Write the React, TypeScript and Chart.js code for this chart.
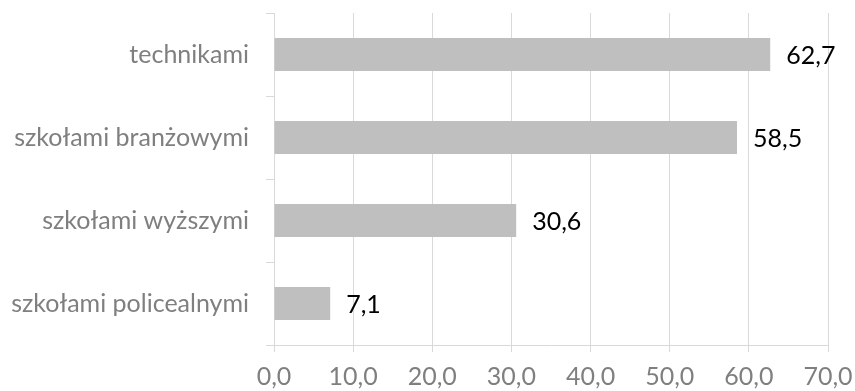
import React, { useEffect, useRef } from "react";
import { Chart, registerables } from "chart.js";

Chart.register(...registerables);

const categories = [
  "technikami",
  "szkołami branżowymi",
  "szkołami wyższymi",
  "szkołami policealnymi",
];
const values = [62.7, 58.5, 30.6, 7.1];
const axisMin = 0;
const axisMax = 70;
const axisStep = 10;

const fmt = (v: number) => v.toFixed(1).replace(".", ",");
const FONT = "Lato, 'Open Sans', sans-serif";
const FONT_SIZE = 25;

const valueLabels = {
  id: "valueLabels",
  afterDatasetsDraw(chart: any) {
    const ctx = chart.ctx;
    const meta = chart.getDatasetMeta(0);
    ctx.save();
    ctx.font = `${FONT_SIZE}px ${FONT}`;
    ctx.fillStyle = "#000000";
    ctx.textAlign = "left";
    ctx.textBaseline = "middle";
    meta.data.forEach((bar: any, i: number) => {
      ctx.fillText(fmt(values[i]), bar.x + 16, bar.y + 1);
    });
    ctx.restore();
  },
};

const noScalePadding = (s: any) => {
  s.paddingTop = 0;
  s.paddingBottom = 0;
  s.paddingLeft = 0;
  s.paddingRight = 0;
};

export default function App() {
  const ref = useRef<HTMLCanvasElement>(null);

  useEffect(() => {
    document.body.style.margin = "0";
    const chart = new Chart(ref.current!, {
      type: "bar",
      data: {
        labels: categories,
        datasets: [
          {
            data: values,
            backgroundColor: "#bfbfbf",
            barPercentage: 0.4,
            categoryPercentage: 1,
          },
        ],
      },
      plugins: [valueLabels],
      options: {
        indexAxis: "y",
        animation: false,
        responsive: false,
        layout: { padding: { top: 13, right: 27, bottom: 0, left: 0 } },
        plugins: { legend: { display: false }, tooltip: { enabled: false } },
        scales: {
          x: {
            min: axisMin,
            max: axisMax,
            afterFit: (s: any) => {
              s.height = 46;
              noScalePadding(s);
            },
            afterBuildTicks: (s: any) => {
              const t = [];
              for (let v = axisMin; v <= axisMax; v += axisStep) t.push({ value: v });
              s.ticks = t;
            },
            grid: { color: "#d9d9d9", lineWidth: 1, tickLength: 7 },
            border: { display: true, color: "#d9d9d9", width: 1 },
            ticks: {
              color: "#7f7f7f",
              font: { family: FONT, size: FONT_SIZE },
              padding: 10,
              maxRotation: 0,
              callback: (v: any) => fmt(Number(v)),
            },
          },
          y: {
            afterFit: (s: any) => {
              s.width = 274;
              noScalePadding(s);
            },
            grid: {
              drawOnChartArea: false,
              color: "#d9d9d9",
              lineWidth: 1,
              tickLength: 8,
            },
            border: { display: true, color: "#d9d9d9", width: 1 },
            ticks: {
              color: "#7f7f7f",
              font: { family: FONT, size: FONT_SIZE },
              padding: 17,
            },
          },
        },
      },
    });
    return () => chart.destroy();
  }, []);

  return <canvas ref={ref} width={855} height={391} style={{ display: "block" }} />;
}
